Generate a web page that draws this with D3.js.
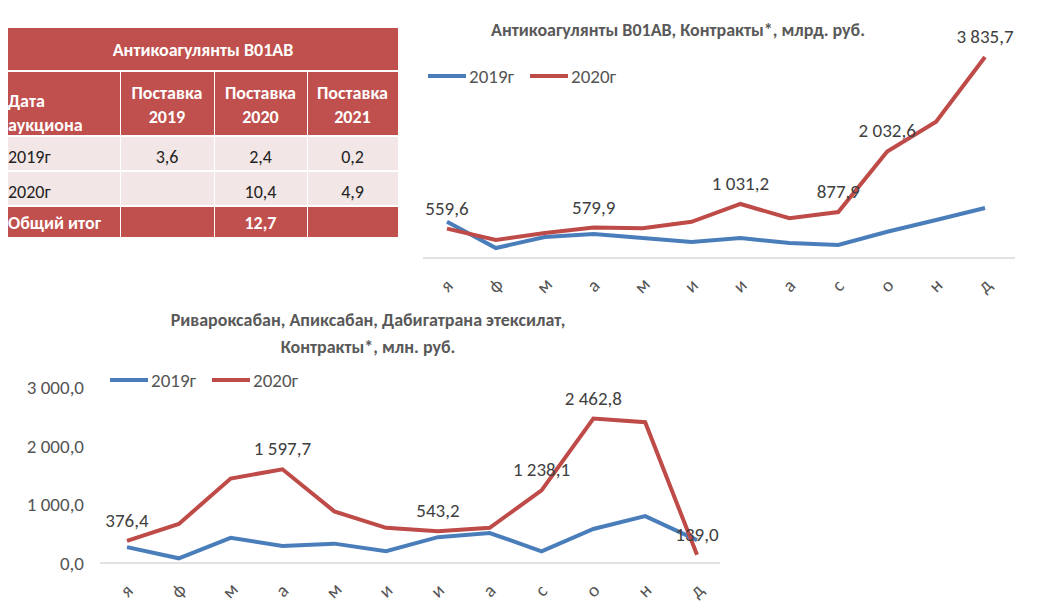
<!DOCTYPE html><html><head><meta charset="utf-8"><script src="https://cdn.jsdelivr.net/npm/d3@7"></script>
<style>body{margin:0;background:#fff}text{font-family:Calibri,Carlito,"Liberation Sans",Arial,sans-serif}</style></head><body>
<svg id="c" width="1037" height="608"></svg>
<script>
const months=["я","ф","м","а","м","и","и","а","с","о","н","д"];
const top2019=[690,190,400,460,380,305,380,285,250,500,725,955];
const top2020=[559.6,344,477,579.9,570,690,1031.2,760,877.9,2032.6,2600,3835.7];
const topLabels=[0,3,6,8,9,11];
const bot2019=[270,80,430,290,330,200,440,510,200,580,800,390];
const bot2020=[376.4,665,1440,1597.7,880,600,543.2,600,1238.1,2462.8,2400,139.0];
const botLabels=[0,3,6,8,9,11];
const yTicks=[0,1000,2000,3000];
const tableHead=["Поставка 2019","Поставка 2020","Поставка 2021"];
const tableRows=[["2019г","3,6","2,4","0,2"],["2020г","","10,4","4,9"]];
const tableTotal=["Общий итог","","12,7",""];
const blue="#4A7EBB",red="#BE4B48";
const svg=d3.select("#c");
const fmt=v=>d3.format(",.1f")(v).replace(/,/g," ").replace(".",",");

const cx=[8,120,214,307,398],R="#C0504D",L="#F2E6E6";
const g=svg.append("g");
g.append("rect").attr("x",8).attr("y",28).attr("width",390).attr("height",42).attr("fill",R);
g.append("text").attr("x",203).attr("y",56).attr("text-anchor","middle").attr("fill","#fff").attr("font-weight","bold").attr("font-size",18).text("Антикоагулянты B01AB");
const rowsY=[[72,63],[137,33],[172,33],[207,30]];
for(let r=0;r<4;r++)for(let c=0;c<4;c++){
 g.append("rect").attr("x",cx[c]+(c?1:0)).attr("y",rowsY[r][0]).attr("width",cx[c+1]-cx[c]-(c?1:0)).attr("height",rowsY[r][1]).attr("fill",(r==1||r==2)?L:R);
}
const hdr=g.append("text").attr("fill","#fff").attr("font-weight","bold").attr("font-size",18);
hdr.append("tspan").attr("x",8).attr("y",107).text("Дата");
hdr.append("tspan").attr("x",8).attr("y",131).text("аукциона");
tableHead.forEach((h,i)=>{const w=h.split(" ");const t=g.append("text").attr("fill","#fff").attr("font-weight","bold").attr("font-size",18).attr("text-anchor","middle");
 const m=(cx[i+1]+cx[i+2])/2;t.append("tspan").attr("x",m).attr("y",99).text(w[0]);t.append("tspan").attr("x",m).attr("y",123).text(w[1]);});
tableRows.forEach((row,r)=>row.forEach((v,c)=>{g.append("text").attr("x",c?(cx[c]+cx[c+1])/2:8).attr("y",163+r*35).attr("text-anchor",c?"middle":"start").attr("font-size",18).attr("fill","#222").text(v);}));
tableTotal.forEach((v,c)=>{g.append("text").attr("x",c?(cx[c]+cx[c+1])/2:8).attr("y",229).attr("text-anchor",c?"middle":"start").attr("font-size",18).attr("font-weight","bold").attr("fill","#fff").text(v);});

function chart(o){
 const x=d3.scalePoint().domain(d3.range(12)).range(o.xr);
 const y=d3.scaleLinear().domain(o.yd).range(o.yr);
 const gg=svg.append("g");
 if(o.ticks){o.ticks.forEach(t=>gg.append("text").attr("x",o.ax[0]-16).attr("y",y(t)+7).attr("text-anchor","end").attr("font-size",19).attr("fill","#555").text(fmt(t)));}
 gg.append("line").attr("x1",o.ax[0]).attr("x2",o.ax[1]).attr("y1",y(0)).attr("y2",y(0)).attr("stroke","#d9d9d9").attr("stroke-width",1.5);
 months.forEach((m,i)=>gg.append("text").attr("transform",`translate(${x(i)+4},${y(0)+o.mOff}) rotate(-45)`).attr("text-anchor","middle").attr("font-size",19).attr("fill","#555").text(m));
 const line=d3.line().x((d,i)=>x(i)).y(d=>y(d));
 gg.append("path").attr("d",line(o.s19)).attr("fill","none").attr("stroke",blue).attr("stroke-width",4);
 gg.append("path").attr("d",line(o.s20)).attr("fill","none").attr("stroke",red).attr("stroke-width",4);
 o.lab.forEach(i=>gg.append("text").attr("x",x(i)).attr("y",y(o.s20[i])-14).attr("text-anchor","middle").attr("font-size",19).attr("fill","#404040").text(fmt(o.s20[i])));
 const lg=gg.append("g").attr("transform",`translate(${o.lg[0]},${o.lg[1]})`);
 [["2019г",blue],["2020г",red]].forEach((d,i)=>{lg.append("line").attr("x1",i*102).attr("x2",i*102+38).attr("stroke",d[1]).attr("stroke-width",4);
  lg.append("text").attr("x",i*102+41).attr("y",7).attr("font-size",19).attr("fill","#555").text(d[0]);});
 o.title.forEach((t,i)=>gg.append("text").attr("x",o.tx).attr("y",o.ty+i*27).attr("text-anchor","middle").attr("font-size",18).attr("font-weight","bold").attr("fill","#595959").text(t));
}
chart({xr:[447,985],yd:[0,3835.7],yr:[258,57],ax:[423,1015],s19:top2019,s20:top2020,lab:topLabels,mOff:32,lg:[428,76],title:["Антикоагулянты B01AB, Контракты*, млрд. руб."],tx:678,ty:36});
chart({xr:[127,697],yd:[0,3000],yr:[563,387],ax:[100,720],s19:bot2019,s20:bot2020,lab:botLabels,mOff:32,lg:[110,380],ticks:yTicks,title:["Ривароксабан, Апиксабан, Дабигатрана этексилат,","Контракты*, млн. руб."],tx:368,ty:326});
</script></body></html>
